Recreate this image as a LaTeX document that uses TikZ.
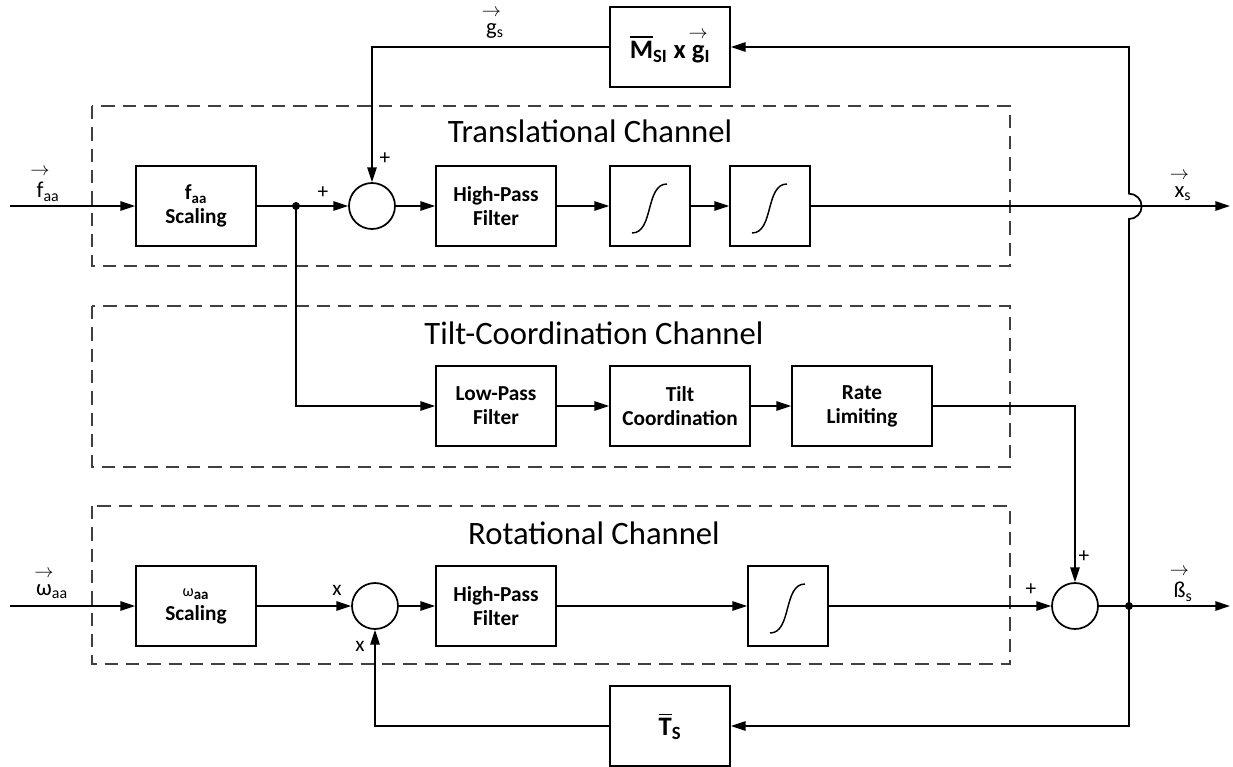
\documentclass[tikz,border=0pt]{standalone}
\usepackage{amsmath}
\usepackage{fontspec}
\setmainfont{Carlito}
\usetikzlibrary{arrows.meta}

% letter with a vector arrow over it, then its subscript
\newcommand{\vlab}[3][15pt]{\setbox0\hbox{#2}\rlap{\hbox to \wd0{\hss\raisebox{\dimexpr\ht0+5pt\relax}{\fontsize{#1}{#1}\selectfont$\rightarrow$}\hss}}\box0\textsubscript{#3}}

\tikzset{
  block/.style={draw, line width=1.3pt, minimum width=90pt, minimum height=60pt,
    align=center, font=\bfseries\fontsize{16}{18}\selectfont},
  intbox/.style={block, minimum width=60pt},
  widebox/.style={block, minimum width=105pt},
  sumnode/.style={draw, circle, line width=1.3pt, minimum size=34.5pt, inner sep=0pt},
  chanbox/.style={draw=black!75, dash pattern=on 10pt off 6pt, line width=0.8pt},
  chantitle/.style={font=\fontsize{24.5}{26}\selectfont},
  sig/.style={line width=1.3pt, -{Triangle[length=11pt,width=7pt]}},
  signlbl/.style={font=\fontsize{16}{16}\selectfont},
  iolbl/.style={font=\fontsize{17}{17}\selectfont},
}

\begin{document}
\begin{tikzpicture}[x=0.75pt,y=-0.75pt]
\useasboundingbox (0,0) rectangle (1233,767);

% channel frames
\draw[chanbox] (92,106) rectangle (1010,266);
\draw[chanbox] (92,306) rectangle (1010,467);
\draw[chanbox] (92,506) rectangle (1010,664);
\node[chantitle] (ttrans) at (590,131) {Translational Channel};
\node[chantitle] (ttilt) at (594,333) {Tilt-Coordination Channel};
\node[chantitle] (trot) at (594,533) {Rotational Channel};

% blocks
\node[block] (fsc) at (196,206) {f\textsubscript{aa}\\Scaling};
\node[sumnode] (s1) at (372,206) {};
\node[block] (hp1) at (496,206) {High-Pass\\Filter};
\node[intbox] (i1) at (650,206) {};
\node[intbox] (i2) at (770,206) {};
\node[block, font=\bfseries\fontsize{20}{22}\selectfont] (msi) at (670,47) {$\overline{\textbf{M}}$\textsubscript{SI} x \vlab[14pt]{g}{I}};

\node[block] (lp) at (496,406) {Low-Pass\\Filter};
\node[widebox] (tc) at (680,406) {Tilt\\Coordination};
\node[widebox] (rl) at (862,406) {Rate\\Limiting};

\node[block] (wsc) at (196,606) {{\mdseries\fontsize{12}{12}\selectfont ω}\textsubscript{aa}\\Scaling};
\node[sumnode] (s2) at (375,606) {};
\node[block] (hp2) at (496,606) {High-Pass\\Filter};
\node[intbox] (i3) at (788,606) {};
\node[sumnode] (s3) at (1075,606) {};
\node[block, font=\bfseries\fontsize{20}{22}\selectfont] (ts) at (670,726) {$\overline{\textbf{T}}$\textsubscript{S}};

% integrator symbols
\foreach \n in {i1,i2,i3}
  \draw[line width=1.1pt] ([shift={(-18,27)}]\n.center) .. controls +(22,0) and +(-22,0) .. ([shift={(17,-22)}]\n.center);

% free ends and branch points
\coordinate (in1) at (10,206);
\coordinate (in2) at (10,606);
\coordinate (out1) at (1230,206);
\coordinate (out2) at (1230,606);
\coordinate (fork) at (296,206);
\coordinate (bfork) at (1129,606);
\coordinate (jmp) at (1129,219);

% translational channel
\draw[sig] (in1) -- (fsc);
\draw[line width=1.3pt] (fsc) -- (fork);
\draw[sig] (fork) -- (s1);
\draw[sig] (s1) -- (hp1);
\draw[sig] (hp1) -- (i1);
\draw[sig] (i1) -- (i2);
\draw[sig] (i2) -- (out1);
\draw[sig] (msi) -| (s1);

% tilt coordination
\draw[sig] (fork) |- (lp);
\draw[sig] (lp) -- (tc);
\draw[sig] (tc) -- (rl);
\draw[sig] (rl) -| (s3);

% rotational channel
\draw[sig] (in2) -- (wsc);
\draw[sig] (wsc) -- (s2);
\draw[sig] (s2) -- (hp2);
\draw[sig] (hp2) -- (i3);
\draw[sig] (i3) -- (s3);
\draw[sig] (s3) -- (out2);

% feedback paths
\draw[sig] (bfork) -- (jmp) arc[start angle=-90, end angle=90, radius=9.5pt] |- (msi);
\draw[sig] (bfork) |- (ts);
\draw[sig] (ts) -| (s2);
\fill (fork) circle (3pt);
\fill (bfork) circle (3pt);

% signs
\node[signlbl] (p1) at (323,193) {+};
\node[signlbl] (p2) at (385,159) {+};
\node[signlbl] (x1) at (337,590) {x};
\node[signlbl] (x2) at (360,646) {x};
\node[signlbl] (p3) at (1084,557) {+};
\node[signlbl] (p4) at (1031,590) {+};

% signal labels
\node[iolbl] (lfaa) at (48,185) {\vlab{f}{aa}};
\node[iolbl] (lwaa) at (52,585) {\vlab{ω}{aa}};
\node[iolbl] (lxs) at (1183,187) {\vlab{x}{s}};
\node[iolbl] (lbs) at (1183,585) {\vlab{ß}{s}};
\node[iolbl] (lgs) at (495,24) {\vlab{g}{s}};
\end{tikzpicture}
\end{document}
